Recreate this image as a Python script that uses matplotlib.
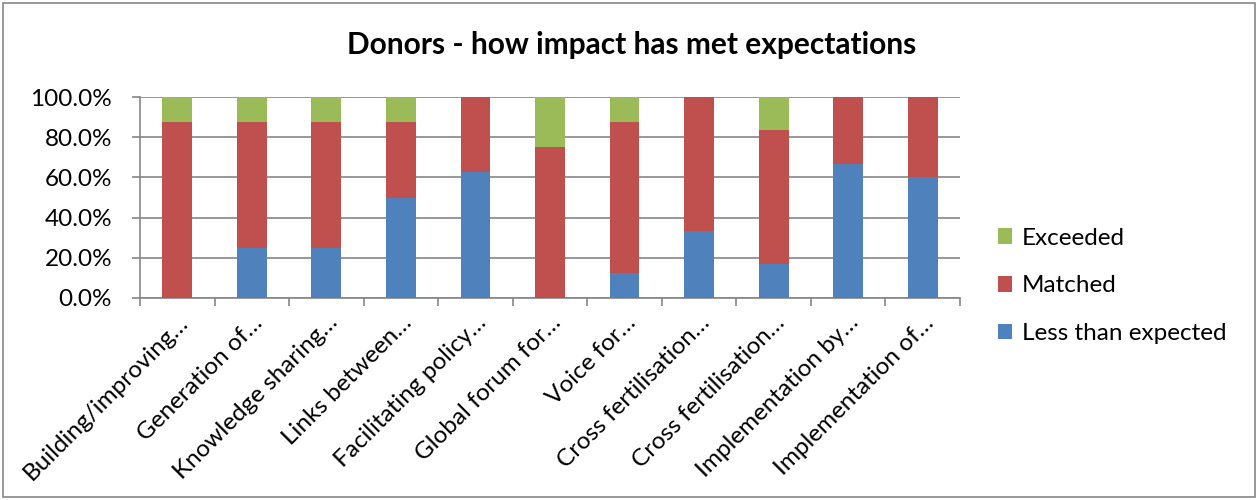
import matplotlib
matplotlib.use("Agg")
import matplotlib.pyplot as plt
import numpy as np
from matplotlib.patches import Rectangle
from matplotlib.ticker import PercentFormatter

plt.rcParams['font.family'] = ['Lato', 'DejaVu Sans']

categories = ['Building/improving\u2026', 'Generation of\u2026', 'Knowledge sharing\u2026',
              'Links between\u2026', 'Facilitating policy\u2026', 'Global forum for\u2026',
              'Voice for\u2026', 'Cross fertilisation\u2026', 'Cross fertilisation\u2026',
              'Implementation by\u2026', 'Implementation of\u2026']
less_than = [0, 25, 25, 50, 62.5, 0, 12.5, 33.3, 16.7, 66.7, 60]
matched = [87.5, 62.5, 62.5, 37.5, 37.5, 75, 75, 66.7, 66.7, 33.3, 40]
exceeded = [12.5, 12.5, 12.5, 12.5, 0, 25, 12.5, 0, 16.6, 0, 0]

c_less = '#4f81bd'
c_match = '#c0504d'
c_exc = '#9bbb59'
grid_c = '#868686'

fig = plt.figure(figsize=(12.58, 5.0), dpi=100)
ax = fig.add_axes([140/1258, 1 - 298/500, 820/1258, 201/500])

x = np.arange(len(categories))
w = 0.4
less_arr = np.array(less_than)
match_arr = np.array(matched)
ax.bar(x, less_arr, w, color=c_less, label='Less than expected', zorder=3)
ax.bar(x, match_arr, w, bottom=less_arr, color=c_match, label='Matched', zorder=3)
ax.bar(x, exceeded, w, bottom=less_arr + match_arr, color=c_exc, label='Exceeded', zorder=3)

ax.set_xlim(-0.5, len(categories) - 0.5)
ax.set_ylim(0, 100)
ax.set_yticks(np.arange(0, 101, 20))
ax.yaxis.set_major_formatter(PercentFormatter(decimals=1))
ax.grid(axis='y', color=grid_c, linewidth=1.2, zorder=0)

ax.set_xticks(x)
ax.set_xticklabels(categories, rotation=45, ha='right', rotation_mode='anchor', fontsize=17.5)
ax.tick_params(axis='x', length=0, pad=10)
ax.set_xticks(np.arange(-0.5, len(categories)), minor=True)
ax.tick_params(axis='x', which='minor', length=6, color=grid_c, width=1.2)
ax.tick_params(axis='y', length=6, color=grid_c, width=1.2, labelsize=17.5, pad=14)

for s in ['top', 'right']:
    ax.spines[s].set_visible(False)
for s in ['left', 'bottom']:
    ax.spines[s].set_color(grid_c)
    ax.spines[s].set_linewidth(1.2)

fig.text(632/1258, 1 - 45/500, 'Donors - how impact has met expectations',
         ha='center', va='center', fontsize=21.5, fontweight='bold')

handles, labels = ax.get_legend_handles_labels()
fig.legend(handles[::-1], labels[::-1], loc='center left',
           bbox_to_anchor=(976/1258, 1 - 286/500), frameon=False, fontsize=17.5,
           handlelength=0.6, handleheight=0.6, labelspacing=1.1, handletextpad=0.4)

fig.patches.append(Rectangle((3/1258, 3/500), 1252/1258, 494/500, transform=fig.transFigure,
                             fill=False, edgecolor='#868686', linewidth=1.2))

fig.savefig('out.png', dpi=100, facecolor='white')
